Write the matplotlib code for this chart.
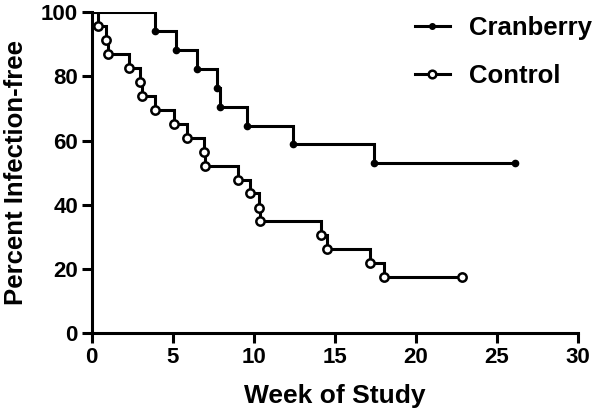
import numpy as np
import matplotlib
matplotlib.use("Agg")
import matplotlib.pyplot as plt

plt.rcParams['font.family'] = ['Liberation Sans', 'DejaVu Sans']
plt.rcParams['font.weight'] = 'bold'

# Kaplan-Meier events (week, percent infection-free)
cran_weeks = [3.9, 5.2, 6.5, 7.75, 7.9, 9.6, 12.4, 17.45]
cran_pct = [94.1, 88.2, 82.4, 76.5, 70.6, 64.7, 58.8, 52.9]
cran_end = 26.1

ctrl_weeks = [0.4, 0.85, 1.0, 2.3, 3.0, 3.1, 3.9, 5.05, 5.9, 6.9, 7.0,
              9.05, 9.75, 10.3, 10.4, 14.15, 14.5, 17.2, 18.05]
ctrl_pct = [95.7, 91.3, 87.0, 82.6, 78.3, 73.9, 69.6, 65.2, 60.9, 56.5, 52.2,
            47.8, 43.5, 39.1, 34.8, 30.4, 26.1, 21.7, 17.4]
ctrl_end = 22.85

x_ticks = [0, 5, 10, 15, 20, 25, 30]
y_ticks = [0, 20, 40, 60, 80, 100]


def km_path(weeks, pct, end):
    t = [0] + list(weeks) + [end]
    s = [100] + list(pct) + [pct[-1]]
    return t, s


fig = plt.figure(figsize=(6, 4.13), dpi=100)
ax = fig.add_axes([0.153, 0.194, 0.810, 0.776])

lw = 2.2
t, s = km_path(cran_weeks, cran_pct, cran_end)
ax.step(t, s, where='post', color='black', lw=lw, solid_joinstyle='miter')
ax.plot(t[1:], s[1:], 'o', color='black', ms=4.5, clip_on=False)

t, s = km_path(ctrl_weeks, ctrl_pct, ctrl_end)
ax.step(t, s, where='post', color='black', lw=lw, solid_joinstyle='miter')
ax.plot(t[1:], s[1:], 'o', mfc='white', mec='black', mew=1.8, ms=6, clip_on=False)

# legend handles
h1, = ax.plot([], [], '-o', color='black', lw=lw, ms=4)
h2, = ax.plot([], [], '-o', color='black', lw=lw, ms=5.5, mfc='white', mew=1.8)
fig.legend([h1, h2], ['Cranberry', 'Control'], loc='upper left',
           bbox_to_anchor=(415 / 600, 1 - 16 / 413), frameon=False, fontsize=18.5,
           borderpad=0, borderaxespad=0,
           handlelength=1.36, handletextpad=0.75, labelspacing=0.95)

ax.set_xlim(0, 30)
ax.set_ylim(0, 100)
ax.set_xticks(x_ticks)
ax.set_yticks(y_ticks)
ax.tick_params(direction='out', length=7, width=2.2, labelsize=16, pad=3)
for lab in ax.get_xticklabels() + ax.get_yticklabels():
    lab.set_fontweight('bold')
ax.spines['top'].set_visible(False)
ax.spines['right'].set_visible(False)
ax.spines['left'].set_linewidth(2.2)
ax.spines['bottom'].set_linewidth(2.2)

ax.set_xlabel('Week of Study', fontsize=19, fontweight='bold', labelpad=12)
ax.set_ylabel('Percent Infection-free', fontsize=18.5, fontweight='bold', labelpad=9)

fig.savefig('out.png', dpi=100)
